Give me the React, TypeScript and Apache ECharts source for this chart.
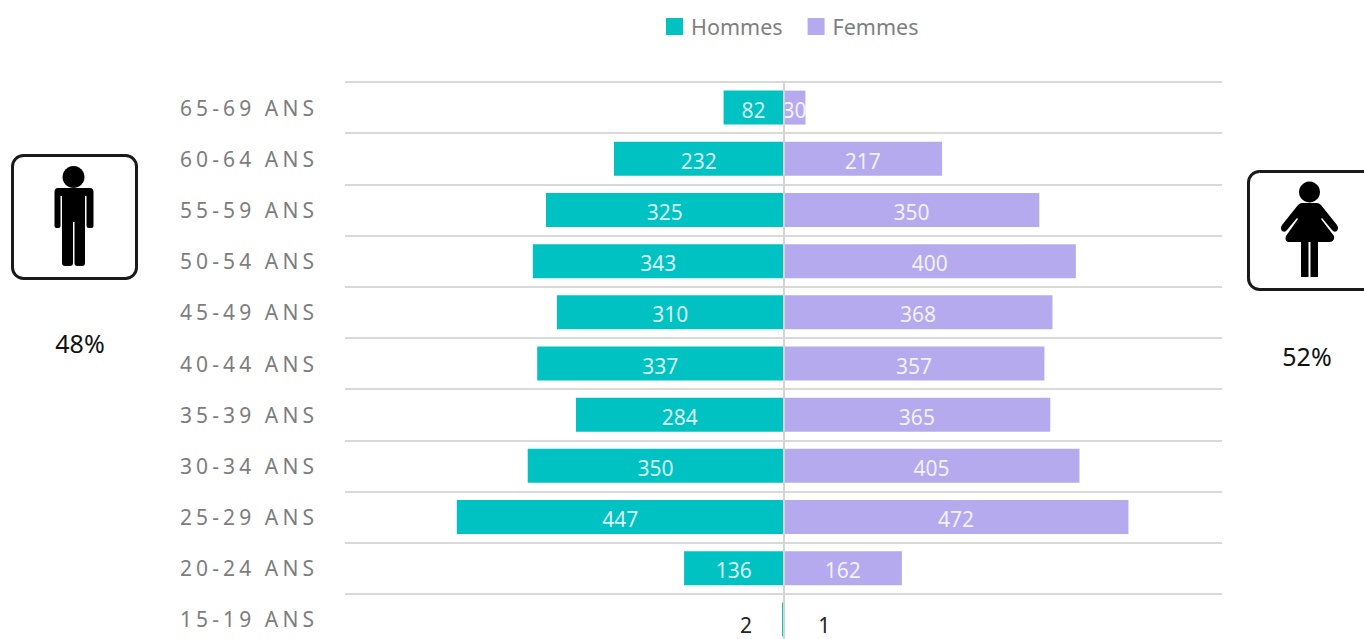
import React, { useEffect, useRef } from "react";
import * as echarts from "echarts";

const categories = ["15-19 ANS", "20-24 ANS", "25-29 ANS", "30-34 ANS", "35-39 ANS", "40-44 ANS", "45-49 ANS", "50-54 ANS", "55-59 ANS", "60-64 ANS", "65-69 ANS"];
const hommes = [2, 136, 447, 350, 284, 337, 310, 343, 325, 232, 82];
const femmes = [1, 162, 472, 405, 365, 357, 368, 400, 350, 217, 30];
const TEAL = "#00c2c2";
const LILAC = "#b6aaee";
const AXIS_GREY = "#7d7d7e";
const LEGEND_GREY = "#7f7f7f";

const manPath = "M58 188 L90 188 Q93.5 188 93.5 192 L93.5 226 Q93.5 228 91.5 228 L89 228 Q86.5 228 86.5 226 L86.5 196 L85 196 L85 263 Q85 266 82 266 L77 266 Q74.5 266 74.5 263 L74.5 222 L73 222 L73 263 Q73 266 70 266 L65 266 Q62 266 62 263 L62 196 L60.5 196 L60.5 226 Q60.5 228 58.5 228 L56.5 228 Q54.5 228 54.5 226 L54.5 192 Q54.5 188 58 188 Z";
const womanPath = "M1302 203 L1317 203 Q1319 203 1321 205 L1337 225 Q1339 228 1337 231 Q1334 233 1332 230 L1322 218 L1321 219 L1334 236 Q1335 242 1329 242 L1318 242 L1318 277 L1310.5 277 L1310.5 242 L1308.5 242 L1308.5 277 L1301 277 L1301 242 L1290 242 Q1284 242 1286 236 L1298 219 L1297 218 L1287 230 Q1285 233 1282 231 Q1280 228 1282 225 L1298 205 Q1300 203 1302 203 Z";

export default function App() {
  const ref = useRef<HTMLDivElement>(null);
  useEffect(() => {
    const mk = (d: string) => (echarts.graphic as any).extendPath(d, {});
    echarts.graphic.registerShape("manIcon", mk(manPath));
    echarts.graphic.registerShape("womanIcon", mk(womanPath));
    const chart = echarts.init(ref.current!, undefined, { renderer: "svg" });
    const barLabel = { show: true, position: "inside", color: "#ffffff", fontFamily: "Noto Sans", fontSize: 21, opacity: 0.85, offset: [0, 2] };
    const tiny = (position: string, dist: number) => ({
      show: true, position, distance: dist, color: "#222222", fontFamily: "Noto Sans", fontSize: 21, opacity: 1, offset: [0, 6],
    });
    chart.setOption({
      animation: false,
      legend: {
        left: 661, top: 10.5, itemWidth: 17, itemHeight: 17, itemGap: 25,
        textStyle: { color: LEGEND_GREY, fontFamily: "Noto Sans", fontSize: 21.5, padding: [0, 0, 2, 3] },
        icon: "rect",
        data: ["Hommes", "Femmes"],
      },
      grid: { left: 345, top: 82, width: 877, height: 563, containLabel: false, outerBoundsMode: "none" },
      xAxis: { type: "value", min: -600, max: 600, show: false },
      yAxis: {
        type: "category", data: categories, z: 3,
        axisTick: { show: false },
        axisLine: { show: true, onZero: true, lineStyle: { color: "#d4d4d4", width: 2 } },
        splitLine: { show: true, lineStyle: { color: "#d9d9d9", width: 2 } },
        axisLabel: { color: AXIS_GREY, fontFamily: "Noto Sans", fontSize: 21, align: "left", margin: 165, interval: 0 },
      },
      series: [
        {
          name: "Hommes", type: "bar", barWidth: 34, barGap: "-100%", itemStyle: { color: TEAL },
          label: { ...barLabel, formatter: (p: any) => String(Math.abs(p.value)) },
          data: hommes.map((v, i) => (i === 0
            ? { value: -v, label: { ...tiny("left", 30), formatter: String(v) } }
            : { value: -v })),
        },
        {
          name: "Femmes", type: "bar", barWidth: 34, barGap: "-100%", itemStyle: { color: LILAC },
          label: barLabel,
          data: femmes.map((v, i) => (i === 0
            ? { value: v, label: tiny("right", 34) }
            : { value: v })),
        },
      ],
      graphic: [
        { type: "rect", shape: { x: 12.5, y: 155.5, width: 124, height: 123, r: 11 }, style: { fill: "#fff", stroke: "#1a1a1a", lineWidth: 3 } },
        { type: "circle", shape: { cx: 73.5, cy: 177, r: 11 }, style: { fill: "#000" } },
        { type: "manIcon", style: { fill: "#000" } },
        { type: "text", x: 80, y: 343, style: { text: "48%", fill: "#111", font: "25px 'Noto Sans'", textAlign: "center", textVerticalAlign: "middle" } },
        { type: "rect", shape: { x: 1248.5, y: 171.5, width: 125, height: 118, r: 11 }, style: { fill: "#fff", stroke: "#1a1a1a", lineWidth: 3 } },
        { type: "circle", shape: { cx: 1309.5, cy: 192, r: 10.5 }, style: { fill: "#000" } },
        { type: "womanIcon", style: { fill: "#000" } },
        { type: "text", x: 1307, y: 356, style: { text: "52%", fill: "#111", font: "25px 'Noto Sans'", textAlign: "center", textVerticalAlign: "middle" } },
      ],
    });
    return () => chart.dispose();
  }, []);
  return (
    <>
      <style>{`html,body{margin:0;padding:0;overflow:hidden;background:#fff}
#pyr text[fill="${AXIS_GREY}"]{letter-spacing:4.1px}`}</style>
      <div id="pyr" ref={ref} style={{ width: 1364, height: 639 }} />
    </>
  );
}
